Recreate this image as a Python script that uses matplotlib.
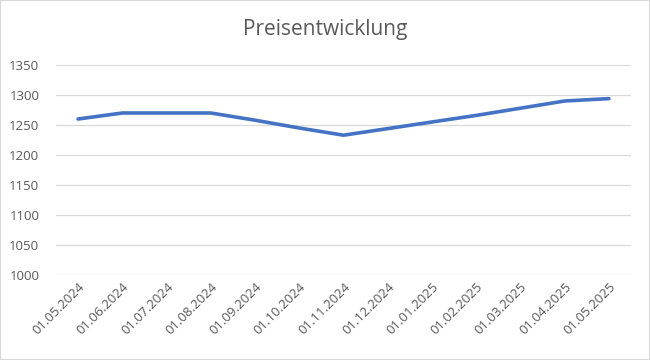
import matplotlib
matplotlib.use("Agg")
import matplotlib.pyplot as plt
from matplotlib.patches import Rectangle

# Preisentwicklung, monthly values
DATES = ["01.05.2024", "01.06.2024", "01.07.2024", "01.08.2024", "01.09.2024",
         "01.10.2024", "01.11.2024", "01.12.2024", "01.01.2025", "01.02.2025",
         "01.03.2025", "01.04.2025", "01.05.2025"]
PRICES = [1260, 1270, 1270, 1270, 1258, 1245, 1233, 1244, 1255, 1266, 1278, 1290, 1294]
Y_TICKS = [1000, 1050, 1100, 1150, 1200, 1250, 1300, 1350]

GREY = "#595959"
plt.rcParams["font.family"] = ["Open Sans", "DejaVu Sans"]

fig = plt.figure(figsize=(6.5, 3.6), dpi=100)
ax = fig.add_axes([56 / 650, 1 - 275 / 360, (631 - 56) / 650, (275 - 65) / 360])

x = list(range(len(DATES)))
ax.plot(x, PRICES, color="#4472C4", lw=2.6, solid_capstyle="round", zorder=3)

ax.set_xlim(-0.5, len(DATES) - 0.5)
ax.set_ylim(1000, 1350)
ax.set_yticks(Y_TICKS)
ax.set_xticks(x)
ax.set_xticklabels(DATES, rotation=45, ha="right", rotation_mode="anchor")
ax.grid(axis="y", color="#d9d9d9", lw=0.9)
ax.set_axisbelow(True)
for s in ax.spines.values():
    s.set_visible(False)
ax.tick_params(length=0, colors=GREY, labelsize=9.5)
ax.tick_params(axis="y", pad=12)
ax.tick_params(axis="x", pad=4)

fig.text(0.5, 1 - 30 / 360, "Preisentwicklung", ha="center", va="center",
         fontsize=15, color=GREY)
fig.patches.append(Rectangle((0, 0), 1, 1, transform=fig.transFigure,
                             fill=False, ec="#d9d9d9", lw=1.5))

fig.savefig("out.png", dpi=100)
